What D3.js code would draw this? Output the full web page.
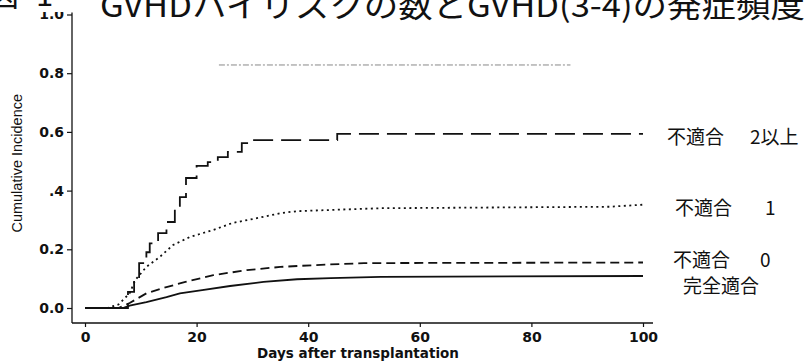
<!DOCTYPE html>
<html><head><meta charset="utf-8">
<script src="https://cdn.jsdelivr.net/npm/d3@7"></script>
<style>
html,body{margin:0;padding:0;background:#fff;}
svg{display:block;}
</style></head>
<body>
<svg id="chart" width="811" height="363"></svg>
<script>
// ---- data ----
const titleLead = ["図", "1"];
const titleMain = "GVHDハイリスクの数とGVHD(3-4)の発症頻度";
const xLabel = "Days after transplantation";
const yLabel = "Cumulative Incidence";
const xTicks = [0, 20, 40, 60, 80, 100];
const xTickLabels = ["0", "20", "40", "60", "80", "100"];
const yTicks = [0, 0.2, 0.4, 0.6, 0.8, 1.0];
const yTickLabels = ["0.0", "0.2", ".4", "0.6", "0.8", "1.0"];

const seriesNames = ["不適合", "不適合", "不適合", "完全適合"];
const seriesSuffix = ["2以上", "1", "0", ""];

const days2 = [0, 7.7, 8.8, 9.7, 11.0, 11.6, 13.1, 14.6, 16.1, 17.0, 18.1, 20.0, 22.0, 23.8, 25.6, 28.1, 29.9, 45.2, 100];
const cum2  = [0, 0.055, 0.105, 0.153, 0.19, 0.22, 0.255, 0.293, 0.344, 0.378, 0.443, 0.484, 0.497, 0.514, 0.532, 0.562, 0.572, 0.593, 0.593];

const days1 = [0, 4, 6, 8, 9, 11, 13.4, 15.8, 18.8, 23, 26.5, 30.8, 35, 38, 53, 94, 100];
const cum1  = [0, 0, 0.012, 0.05, 0.095, 0.14, 0.174, 0.215, 0.242, 0.266, 0.29, 0.306, 0.323, 0.33, 0.34, 0.345, 0.352];

const days0 = [0, 6, 8, 11, 14, 18, 23, 29, 35, 41, 50, 100];
const cum0  = [0, 0, 0.017, 0.05, 0.068, 0.089, 0.112, 0.129, 0.14, 0.146, 0.153, 0.155];

const daysM = [0, 6.8, 8, 11, 14.6, 17, 21, 26, 32, 38, 44, 53, 100];
const cumM  = [0, 0, 0.008, 0.02, 0.037, 0.05, 0.061, 0.075, 0.089, 0.098, 0.102, 0.106, 0.109];

// faint reference line near the top
const refFrom = 24, refTo = 87, refValue = 0.828;

// ---- drawing ----
const svg = d3.select("#chart");
const x = d3.scaleLinear().domain([0, 100]).range([85, 643]);
const y = d3.scaleLinear().domain([0, 1]).range([308, 14.5]);
const axisX = 72, axisY = 323;
const ink = "#111";
const numFont = "'DejaVu Sans', Verdana, sans-serif";
const cjkFont = "'Noto Sans CJK JP', sans-serif";

// y axis
const gy = svg.append("g").attr("transform", `translate(${axisX},0)`)
  .call(d3.axisLeft(y).tickValues(yTicks).tickSize(5).tickPadding(3)
        .tickFormat((d, i) => yTickLabels[i]));
gy.select(".domain").remove();
gy.selectAll(".tick line").attr("stroke", ink).attr("stroke-width", 1.2);
gy.selectAll(".tick text").attr("font-family", numFont).attr("font-size", 14)
  .attr("font-weight", "bold").attr("fill", ink);
svg.append("line").attr("x1", axisX).attr("x2", axisX)
  .attr("y1", y(1) - 2).attr("y2", axisY).attr("stroke", ink).attr("stroke-width", 1.3);

// x axis
const gx = svg.append("g").attr("transform", `translate(0,${axisY})`)
  .call(d3.axisBottom(x).tickValues(xTicks).tickSize(4).tickPadding(5)
        .tickFormat((d, i) => xTickLabels[i]));
gx.select(".domain").remove();
gx.selectAll(".tick line").attr("stroke", ink).attr("stroke-width", 1.2);
gx.selectAll(".tick text").attr("font-family", numFont).attr("font-size", 14)
  .attr("fill", ink).attr("font-weight", "bold");
svg.append("line").attr("x1", axisX).attr("x2", x(100) + 10)
  .attr("y1", axisY).attr("y2", axisY).attr("stroke", ink).attr("stroke-width", 1.3);

// axis titles
svg.append("text").attr("x", (x(0) + x(100)) / 2 - 6).attr("y", 358)
  .attr("text-anchor", "middle").attr("font-family", numFont).attr("font-size", 13.5)
  .attr("font-weight", "bold").attr("fill", ink).text(xLabel);
svg.append("text").attr("transform", `translate(22,${y(0.5) + 2}) rotate(-90)`)
  .attr("text-anchor", "middle").attr("font-family", "'Liberation Sans Narrow','Liberation Sans',Arial,sans-serif")
  .attr("font-size", 14.5).attr("fill", ink).text(yLabel);

// reference dotted line
svg.append("line").attr("x1", x(refFrom)).attr("x2", x(refTo))
  .attr("y1", y(refValue)).attr("y2", y(refValue))
  .attr("stroke", "#888").attr("stroke-width", 1).attr("stroke-dasharray", "6,2,2,2");

// series
const series = [
  {days: days2, cum: cum2, dash: "20,8", curve: d3.curveStepAfter},
  {days: days1, cum: cum1, dash: "2,3.5", curve: d3.curveLinear},
  {days: days0, cum: cum0, dash: "9,5", curve: d3.curveLinear},
  {days: daysM, cum: cumM, dash: null, curve: d3.curveLinear}
];
series.forEach(s => {
  const line = d3.line().x((d, i) => x(s.days[i])).y((d, i) => y(s.cum[i])).curve(s.curve);
  svg.append("path").attr("d", line(s.cum)).attr("fill", "none").attr("stroke", ink)
    .attr("stroke-width", 1.8).attr("stroke-dasharray", s.dash);
});

// right labels
const labelX = [667, 675, 673, 683];
const labelDy = [10, 10, 4.5, 17];
const suffixX = [750, 765, 760, 0];
const finals = [cum2, cum1, cum0, cumM].map(a => a[a.length - 1]);
seriesNames.forEach((name, i) => {
  const t = svg.append("text").attr("x", labelX[i]).attr("y", y(finals[i]) + labelDy[i])
    .attr("font-family", cjkFont).attr("font-size", 19).attr("fill", ink);
  t.append("tspan").text(name);
  if (seriesSuffix[i]) t.append("tspan").attr("x", suffixX[i]).text(seriesSuffix[i]);
});

// top band (title cropped at top edge)
svg.append("rect").attr("x", 0).attr("y", 0).attr("width", 811).attr("height", 12).attr("fill", "#fff");
svg.append("text").attr("x", -12).attr("y", 6).attr("font-family", cjkFont)
  .attr("font-size", 31).attr("fill", ink).text(titleLead[0]);
svg.append("text").attr("x", 36).attr("y", 6).attr("font-family", cjkFont)
  .attr("font-size", 31).attr("fill", ink).text(titleLead[1]);
svg.append("text").attr("x", 100).attr("y", 17).attr("font-family", cjkFont)
  .attr("font-size", 31).attr("fill", ink)
  .attr("textLength", 705).attr("lengthAdjust", "spacingAndGlyphs").text(titleMain);
</script>
</body></html>
